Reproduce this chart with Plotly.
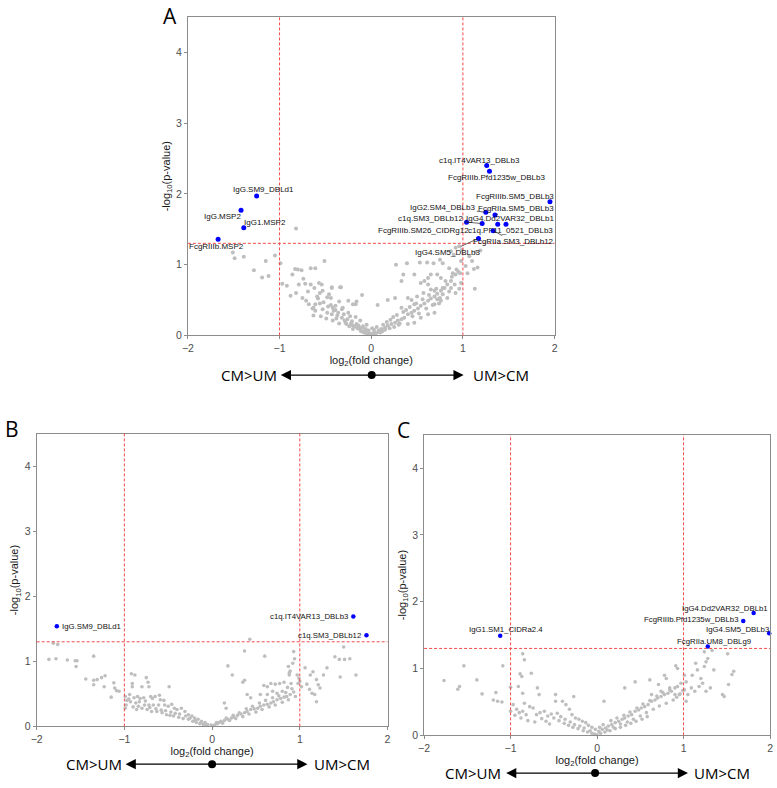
import plotly.graph_objects as go

# ---------------- DATA ----------------
# Panel A (grey, non-significant)
A_GREY = [
    (-1.51,1.17),(-1.49,1.09),(-1.39,1.11),(-1.28,0.92),(-1.19,0.82),(-1.12,0.84),(-1.15,1.05),(-1.05,1.13),
    (-0.99,1.02),(-0.82,1.51),(-0.97,0.73),(-0.92,0.70),(-0.83,0.94),(-0.80,0.93),(-0.76,0.92),(-0.66,0.95),
    (-0.61,0.95),(-0.51,1.05),(-0.88,0.56),(-0.82,0.60),(-0.79,0.72),(-0.72,0.73),(-0.66,0.72),(-0.62,0.67),
    (-0.61,0.44),(-0.56,0.60),(-0.53,0.63),(-0.46,0.58),(-0.33,0.68),(-0.43,0.67),(-0.44,0.53),(-0.75,0.53),
    (-0.71,0.49),(-0.68,0.44),(-0.64,0.38),(-0.61,0.35),(-0.53,0.37),(-0.48,0.32),(-0.43,0.30),(-0.37,0.28),
    (-0.32,0.25),(-0.26,0.23),(-0.21,0.20),(-0.16,0.16),(-0.10,0.11),(-0.07,0.07),(-0.39,0.42),(-0.32,0.37),
    (-0.25,0.32),(-0.17,0.26),(-0.12,0.21),(-0.10,0.57),(-0.17,0.44),(-0.25,0.49),(-0.56,0.45),(-0.63,0.39),
    (-0.44,0.43),(-0.42,0.39),(-0.39,0.36),(-0.36,0.32),(-0.35,0.48),(-0.31,0.39),(-0.20,0.44),(-0.16,0.48),
    (-0.49,0.24),(-0.42,0.21),(-0.35,0.17),(-0.27,0.16),(-0.20,0.14),(-0.13,0.11),(-0.06,0.09),(-0.57,0.74),
    (-0.54,0.72),(-0.43,0.68),(-0.34,0.68),(-0.48,0.54),
    (-0.04,0.05),(-0.02,0.03),(0.00,0.02),(0.02,0.03),(-0.05,0.02),(0.05,0.02),(-0.08,0.04),(0.08,0.05),
    (-0.12,0.08),(0.12,0.06),(-0.15,0.10),(0.15,0.08),(-0.20,0.09),(0.20,0.10),(-0.24,0.13),(0.25,0.12),
    (-0.28,0.18),(0.30,0.15),
    (0.04,0.04),(0.08,0.07),(0.11,0.09),(0.15,0.11),(0.18,0.14),(0.22,0.16),(0.26,0.18),(0.29,0.21),
    (0.33,0.23),(0.36,0.25),(0.40,0.30),(0.44,0.32),(0.47,0.35),(0.51,0.38),(0.54,0.42),(0.58,0.45),
    (0.62,0.49),(0.65,0.52),(0.69,0.55),(0.72,0.59),(0.76,0.63),(0.80,0.67),(0.83,0.72),(0.87,0.77),
    (0.07,0.43),(0.18,0.50),(0.27,1.00),(0.39,1.02),(0.53,1.03),(0.61,1.03),(0.68,1.02),(0.75,1.07),
    (0.78,1.02),(0.33,0.77),(0.26,0.53),(0.33,0.39),(0.40,0.53),(0.47,0.44),(0.62,0.72),(0.65,0.65),
    (0.69,0.63),(0.62,0.81),(0.72,0.86),(0.76,0.81),(0.85,0.95),(0.89,0.88),(0.92,0.86),(0.87,1.19),
    (0.90,1.14),(0.92,1.24),(0.96,1.26),(0.99,1.21),(1.12,0.94),(1.13,0.66),(1.19,1.20),(1.07,1.12),
    (0.98,1.05),(0.69,0.44),(0.76,0.49),(0.83,0.53),(0.54,0.25),(0.62,0.30),(0.69,0.32),(0.40,0.16),
    (0.47,0.18),(1.14,1.18),(1.10,1.05),(1.03,0.98),(0.93,0.93),(0.97,0.88),(0.98,0.74),(0.96,0.66),
    (0.92,0.60),(0.87,0.67),(0.78,0.67),(0.75,0.53),(0.72,0.51),(0.65,0.86),(0.58,0.77),(0.54,0.74),
    (0.47,0.86),(0.35,0.86),
    (-0.58,0.52),(-0.52,0.47),(-0.47,0.41),(-0.41,0.35),(-0.38,0.24),(-0.30,0.30),(-0.29,0.21),(-0.23,0.27),
    (-0.22,0.17),(-0.18,0.13),(-0.14,0.14),(-0.11,0.06),(-0.09,0.13),(-0.03,0.07),(0.03,0.08),(0.06,0.12),
    (0.10,0.04),(0.13,0.15),(0.17,0.19),(0.21,0.22),(0.24,0.26),(0.28,0.29),(0.31,0.17),(0.35,0.33),
    (0.38,0.36),(0.42,0.40),(0.45,0.27),(0.49,0.45),(0.52,0.31),(0.56,0.51),(0.60,0.38),(0.63,0.57),
    (0.67,0.43),(0.71,0.66),(0.74,0.45),(0.78,0.58),(0.81,0.77),(0.85,0.62),(0.88,0.83),(0.91,0.72),
    (0.95,0.90),(0.57,0.60),(0.50,0.55),(0.44,0.50),(-0.86,0.86),(-0.74,0.80),(-0.69,0.62),(-0.59,0.55),
    (-0.63,0.28),(-0.55,0.27),(-0.05,0.15),(0.01,0.10),(1.05,0.88),(1.16,0.96),
]
A_SIG_LABELS = ["c1q.IT4VAR13_DBLb3","FcgRIIIb.Pfd1235w_DBLb3","FcgRIIIb.SM5_DBLb3","IgG2.SM4_DBLb3",
                "FcgRIIa.SM5_DBLb3","FcgRIIIb.SM26_CIDRg12","c1q.SM3_DBLb12","IgG4.Dd2VAR32_DBLb1",
                "c1q.PF11_0521_DBLb3","FcgRIIa.SM3_DBLb12","IgG4.SM5_DBLb3",
                "IgG.SM9_DBLd1","IgG.MSP2","IgG1.MSP2","FcgRIIIb.MSP2"]
A_SIG_X = [1.26, 1.29, 1.95, 1.25, 1.35, 1.04, 1.21, 1.38, 1.47, 1.33, 1.17, -1.25, -1.42, -1.39, -1.67]
A_SIG_Y = [2.40, 2.32, 1.89, 1.74, 1.70, 1.60, 1.58, 1.57, 1.57, 1.48, 1.37, 1.97, 1.77, 1.52, 1.36]

# Panel B
B_GREY = [
    (-1.81,1.28),(-1.76,1.26),(-1.86,1.03),(-1.78,1.04),(-1.65,1.02),(-1.56,1.01),(-1.54,1.01),(-1.55,0.92),
    (-1.35,1.08),(-1.44,0.73),(-1.35,0.71),(-1.31,0.72),(-1.26,0.75),(-1.22,0.78),(-1.35,0.64),(-1.23,0.61),
    (-1.12,0.67),(-1.11,0.59),(-1.09,0.55),(-1.06,0.54),(-1.15,0.45),(-0.92,0.81),(-0.88,0.79),(-0.75,0.75),
    (-0.73,0.68),(-0.91,0.66),(-0.91,0.61),(-0.80,0.61),(-0.72,0.61),(-0.49,0.61),(-0.99,0.46),(-0.97,0.40),
    (-0.98,0.33),(-0.99,0.28),
    (-0.94,0.49),(-0.89,0.44),(-0.85,0.46),(-0.82,0.43),(-0.78,0.44),(-0.76,0.39),(-0.70,0.46),(-0.68,0.43),
    (-0.65,0.46),(-0.60,0.48),(-0.59,0.41),(-0.55,0.40),(-0.72,0.33),(-0.67,0.33),(-0.61,0.33),(-0.54,0.33),
    (-0.50,0.31),(-0.46,0.34),(-0.43,0.28),(-0.40,0.26),(-0.35,0.28),(-0.31,0.23),(-0.27,0.18),(-0.23,0.16),
    (-0.20,0.13),(-0.16,0.11),(-0.12,0.08),(-0.08,0.06),(-0.05,0.03),(-0.01,0.02),(0.03,0.02),(0.06,0.04),
    (0.08,0.06),(0.10,0.08),(0.14,0.09),(0.18,0.11),(0.22,0.13),(0.25,0.14),(0.29,0.17),(0.33,0.19),
    (-0.93,0.38),(-0.87,0.36),(-0.84,0.31),(-0.80,0.28),(-0.74,0.26),(-0.69,0.23),(-0.63,0.23),(-0.57,0.21),
    (-0.52,0.18),(-0.48,0.17),(-0.44,0.16),(-0.38,0.14),(-0.33,0.12),(-0.27,0.11),(-0.22,0.08),(-0.18,0.06),
    (-0.14,0.04),(-0.10,0.03),(-0.07,0.02),
    (0.37,0.21),(0.40,0.23),(0.44,0.26),(0.48,0.27),(0.52,0.28),(0.55,0.31),(0.59,0.33),(0.63,0.34),
    (0.67,0.36),(0.70,0.38),(0.74,0.41),(0.78,0.43),(0.82,0.45),(0.85,0.46),(0.89,0.49),(0.93,0.53),
    (0.18,0.93),(0.23,0.79),(0.37,1.16),(0.43,1.34),(0.60,1.08),(0.35,0.68),(0.37,0.71),(0.14,0.36),
    (0.16,0.28),(0.40,0.49),(0.44,0.44),(0.59,0.63),(0.63,0.61),(0.67,0.66),(0.72,0.65),(0.77,0.66),
    (0.82,0.68),(0.55,0.49),(0.63,0.49),(0.69,0.54),(0.74,0.51),(0.80,0.54),(0.87,0.92),(0.89,0.85),
    (0.88,0.79),(0.93,1.15),(0.94,1.04),(0.92,0.97),(0.97,0.79),(0.99,0.74),(1.00,0.69),(1.02,0.61),
    (1.06,0.90),(1.12,0.79),(1.15,0.84),(1.19,0.72),(1.21,0.64),(1.27,0.79),(1.08,0.65),(1.11,0.57),
    (1.14,0.51),(1.19,0.38),(1.17,0.49),(1.23,0.59),(1.31,0.90),(1.40,1.07),(1.45,1.03),(1.50,1.22),
    (1.51,1.03),(1.57,1.04),(1.46,0.76),(1.64,0.79),(0.88,0.82),
    (-0.95,0.42),(-0.90,0.30),(-0.86,0.26),(-0.83,0.38),(-0.77,0.33),(-0.71,0.29),(-0.64,0.27),(-0.58,0.25),
    (-0.53,0.24),(-0.47,0.22),(-0.42,0.20),(-0.37,0.19),(-0.30,0.16),(-0.25,0.13),(-0.19,0.09),(-0.13,0.06),
    (0.01,0.01),(0.05,0.06),(0.12,0.05),(0.16,0.13),(0.20,0.09),(0.24,0.17),(0.27,0.12),(0.31,0.21),
    (0.35,0.15),(0.39,0.27),(0.42,0.19),(0.46,0.31),(0.50,0.22),(0.54,0.36),(0.57,0.26),(0.61,0.40),
    (0.65,0.30),(0.69,0.44),(0.72,0.33),(0.76,0.47),(0.80,0.37),(0.84,0.52),(0.87,0.41),(0.91,0.58),
    (0.95,0.46),(0.98,0.66),(0.90,0.66),(0.86,0.60),
]
B_SIG_LABELS = ["IgG.SM9_DBLd1", "c1q.IT4VAR13_DBLb3", "c1q.SM3_DBLb12"]
B_SIG_X = [-1.77, 1.61, 1.76]
B_SIG_Y = [1.54, 1.69, 1.40]

# Panel C
C_GREY = [
    (-1.77,0.82),(-1.61,0.69),(-1.59,0.73),(-1.54,1.04),(-1.39,0.83),(-1.33,0.62),(-1.20,0.53),(-1.15,0.51),
    (-1.10,0.50),(-1.09,1.04),(-1.17,0.64),(-1.00,0.72),(-1.00,0.36),(-0.86,1.22),(-0.84,1.13),(-0.89,0.92),
    (-0.87,0.88),(-0.76,0.93),(-0.86,0.63),(-0.91,0.73),(-0.69,0.71),(-0.67,0.61),(-0.84,0.48),(-0.97,0.46),
    (-0.93,0.39),(-0.90,0.34),(-0.86,0.36),(-0.82,0.31),(-0.78,0.43),(-0.74,0.41),(-0.70,0.31),(-0.66,0.34),
    (-0.61,0.36),(-0.57,0.29),(-0.53,0.32),(-0.50,0.26),(-0.48,0.61),(-0.48,0.51),(-0.40,0.51),(-0.36,0.46),
    (-0.32,0.39),(-0.27,0.58),(-0.29,0.31),(-0.25,0.26),(-0.21,0.24),(-0.17,0.21),(-0.13,0.19),(-0.10,0.15),
    (-0.06,0.12),(-0.02,0.09),(0.08,0.51),(-0.44,0.22),(-0.38,0.18),(-0.33,0.15),(-0.28,0.12),(-0.22,0.10),
    (-0.16,0.07),(-0.11,0.05),(-0.06,0.03),(-0.03,0.02),(0.00,0.01),
    (0.02,0.06),(0.06,0.09),(0.10,0.11),(0.13,0.14),(0.17,0.16),(0.21,0.19),(0.25,0.21),(0.29,0.24),
    (0.32,0.26),(0.36,0.29),(0.40,0.31),(0.44,0.36),(0.48,0.38),(0.51,0.41),(0.55,0.43),(0.59,0.46),
    (0.63,0.51),(0.67,0.53),(0.70,0.56),(0.74,0.58),(0.78,0.61),(0.82,0.63),(0.86,0.66),(0.90,0.71),
    (0.93,0.73),(0.97,0.78),(0.04,0.03),(0.09,0.05),(0.15,0.07),(0.21,0.10),(0.27,0.12),(0.33,0.15),
    (0.39,0.18),(0.45,0.21),(0.52,0.24),(0.58,0.28),
    (0.32,0.71),(0.44,0.80),(0.61,0.83),(0.71,0.76),(0.78,0.90),(0.80,0.85),(0.91,1.04),(0.93,1.00),
    (0.63,0.61),(0.74,0.66),(0.84,0.71),(0.90,0.61),(0.95,0.61),(1.01,0.90),(1.03,0.80),(1.01,0.68),
    (1.05,0.61),(1.03,0.51),(1.10,0.90),(1.14,1.08),(1.16,0.98),(1.20,0.85),(1.22,0.78),(1.24,1.03),
    (1.26,1.10),(1.28,1.15),(1.24,1.25),(1.09,0.71),(1.13,0.66),(1.18,0.73),(1.26,0.66),(1.31,0.71),
    (1.35,0.98),(1.45,0.61),(1.47,0.58),(1.52,0.76),(1.56,0.91),(1.58,0.96),(1.51,1.22),(1.33,1.27),
    (-0.95,0.30),(-0.88,0.26),(-0.80,0.22),(-0.72,0.20),(-0.64,0.25),(-0.59,0.21),(-0.55,0.17),(-0.46,0.33),
    (-0.42,0.28),(-0.37,0.24),(-0.31,0.20),(-0.26,0.16),(-0.20,0.14),(-0.15,0.11),(-0.08,0.07),(0.03,0.12),
    (0.07,0.16),(0.12,0.08),(0.16,0.22),(0.19,0.12),(0.23,0.26),(0.27,0.17),(0.31,0.30),(0.35,0.20),
    (0.38,0.35),(0.42,0.24),(0.46,0.41),(0.50,0.29),(0.53,0.47),(0.57,0.34),(0.61,0.52),(0.65,0.39),
    (0.69,0.59),(0.72,0.44),(0.76,0.64),(0.80,0.48),(0.84,0.68),(0.88,0.53),(0.92,0.57),(0.96,0.62),
    (0.99,0.67),
]
C_SIG_LABELS = ["IgG1.SM1_CIDRa2.4", "IgG4.Dd2VAR32_DBLb1", "FcgRIIIb.Pfd1235w_DBLb3",
                "IgG4.SM5_DBLb3", "FcgRIIa.UM8_DBLg9"]
C_SIG_X = [-1.12, 1.81, 1.69, 1.99, 1.28]
C_SIG_Y = [1.49, 1.83, 1.71, 1.53, 1.33]

X_TICKS = [-2, -1, 0, 1, 2]
Y_TICKS = [0, 1, 2, 3, 4]
FC_CUT = [-1, 1]
P_CUT = 1.30103  # -log10(0.05)

# ---------------- STYLE / LAYOUT ----------------
# label placement: (dx px, dy px downward, draw connector)
A_LAB_POS = [(-7,-5,False),(7,6,False),(-35,-5,False),(-43,-5,True),(21,-7,True),(-43,8,False),
             (-52,-5,True),(12,-6,True),(5,6,False),(20,11,True),(-31,14,True),
             (7,-6,False),(-19,6,False),(21,-5,False),(-2,7,False)]
B_LAB_POS = [("left",3,0),("right",-3,0),("right",-3,0)]
C_LAB_POS = [("center",6,6),("center",-29,5),("right",-3,2),("center",-32,4),("center",6,5)]

W, H = 777, 788
FONT = "Liberation Sans, Arial, sans-serif"
BIGFONT = "Open Sans, Noto Sans, sans-serif"
GREY = "#bebebe"
RED = "#f24a4a"
AXC = "#8c8c8c"

panels = [
    dict(grey=A_GREY, sx=A_SIG_X, sy=A_SIG_Y, xd=[184/W, 555/W], yd=[1-338/H, 1-17/H], gs=4, bs=5),
    dict(grey=B_GREY, sx=B_SIG_X, sy=B_SIG_Y, xd=[31/W, 386/W], yd=[1-732/H, 1-437/H], gs=3.6, bs=4.5),
    dict(grey=C_GREY, sx=C_SIG_X, sy=C_SIG_Y, xd=[423/W, 773/W], yd=[1-741/H, 1-438/H], gs=3.6, bs=4.5),
]

fig = go.Figure()
layout = dict(width=W, height=H, margin=dict(l=0, r=0, t=0, b=0), paper_bgcolor="white",
              plot_bgcolor="white", showlegend=False, hovermode=False)
shapes = []
annotations = []

for i, p in enumerate(panels):
    sfx = "" if i == 0 else str(i + 1)
    xa, ya = "x" + sfx, "y" + sfx
    fig.add_trace(go.Scatter(x=[g[0] for g in p["grey"]], y=[g[1] for g in p["grey"]], mode="markers",
                             marker=dict(color=GREY, size=p["gs"], line=dict(width=0)),
                             xaxis=xa, yaxis=ya, cliponaxis=False))
    fig.add_trace(go.Scatter(x=p["sx"], y=p["sy"], mode="markers",
                             marker=dict(color="#0000ff", size=p["bs"], line=dict(width=0)),
                             xaxis=xa, yaxis=ya, cliponaxis=False))
    axis_common = dict(showline=True, mirror=True, linecolor=AXC, linewidth=1, ticks="outside",
                       ticklen=3, tickcolor=AXC, showgrid=False, zeroline=False,
                       tickfont=dict(family=FONT, size=10.5, color="#4d4d4d"))
    layout["xaxis" + sfx] = dict(domain=p["xd"], anchor=ya, range=[-2, 2], tickvals=X_TICKS,
                                 title=dict(text="log<sub>2</sub>(fold change)",
                                            font=dict(family=FONT, size=11, color="#1a1a1a"), standoff=2),
                                 **axis_common)
    layout["yaxis" + sfx] = dict(domain=p["yd"], anchor=xa, range=[0, 4.5], tickvals=Y_TICKS,
                                 title=dict(text="-log<sub>10</sub>(p-value)",
                                            font=dict(family=FONT, size=11, color="#1a1a1a"), standoff=3),
                                 **axis_common)
    for c in FC_CUT:
        shapes.append(dict(type="line", xref=xa, yref=ya + " domain", x0=c, x1=c, y0=0, y1=1,
                           line=dict(color=RED, width=1, dash="3px,2px"), layer="above"))
    shapes.append(dict(type="line", xref=xa + " domain", yref=ya, x0=0, x1=1, y0=P_CUT, y1=P_CUT,
                       line=dict(color=RED, width=1, dash="3px,2px"), layer="above"))

# Panel A labels (repelled style)
for lab, x, y, (dx, dy, ln) in zip(A_SIG_LABELS, A_SIG_X, A_SIG_Y, A_LAB_POS):
    if ln:
        annotations.append(dict(x=x, y=y, xref="x", yref="y", text=lab, showarrow=True, arrowhead=0,
                                arrowwidth=0.7, arrowcolor="#222", ax=dx, ay=dy, standoff=1,
                                font=dict(family=FONT, size=8, color="#111")))
    else:
        annotations.append(dict(x=x, y=y, xref="x", yref="y", text=lab, showarrow=False,
                                xshift=dx, yshift=-dy, font=dict(family=FONT, size=8, color="#111")))
for lab, x, y, (anc, dx, dy) in zip(B_SIG_LABELS, B_SIG_X, B_SIG_Y, B_LAB_POS):
    annotations.append(dict(x=x, y=y, xref="x2", yref="y2", text=lab, showarrow=False, xanchor=anc,
                            xshift=dx, yshift=dy, font=dict(family=FONT, size=7.8, color="#111")))
for lab, x, y, (anc, dx, dy) in zip(C_SIG_LABELS, C_SIG_X, C_SIG_Y, C_LAB_POS):
    annotations.append(dict(x=x, y=y, xref="x3", yref="y3", text=lab, showarrow=False, xanchor=anc,
                            xshift=dx, yshift=dy, font=dict(family=FONT, size=7.8, color="#111")))

# Panel letters (top-anchored)
for txt, px, py in [("A", 166, -3), ("B", 6, 416), ("C", 402, 417)]:
    annotations.append(dict(x=px/W, y=min(1.0, 1-py/H), xref="paper", yref="paper", text=txt,
                            showarrow=False, xanchor="center", yanchor="top",
                            font=dict(family=BIGFONT, size=21, color="black")))

# Direction arrows under each panel
for left_end, center, right_end, row_y, ltxt, rtxt in [
        (278, 370, 463, 378, 276, 470),
        (121, 208.5, 305, 770, 119, 310),
        (506, 596, 690, 779, 503, 694)]:
    yy = 1 - row_y/H
    for end in (left_end, right_end):
        annotations.append(dict(x=end/W, y=yy, xref="paper", yref="paper", ax=center - end, ay=0,
                                text="", showarrow=True, arrowhead=2,
                                arrowsize=1.7, arrowwidth=1.2, arrowcolor="black"))
    annotations.append(dict(x=ltxt/W, y=yy, xref="paper", yref="paper", text="CM&gt;UM", showarrow=False,
                            xanchor="right", yanchor="middle", font=dict(family=BIGFONT, size=15, color="black")))
    annotations.append(dict(x=rtxt/W, y=yy, xref="paper", yref="paper", text="UM&gt;CM", showarrow=False,
                            xanchor="left", yanchor="middle", font=dict(family=BIGFONT, size=15, color="black")))
    shapes.append(dict(type="circle", xref="paper", yref="paper", xsizemode="pixel", ysizemode="pixel",
                       xanchor=center/W, yanchor=yy, x0=-4, x1=4, y0=-4, y1=4,
                       fillcolor="black", line=dict(color="black", width=0)))

layout["shapes"] = shapes
layout["annotations"] = annotations
fig.update_layout(**layout)
fig.write_html("out.html", config={"displayModeBar": False, "staticPlot": True},
               post_script="document.body.style.margin='0px';document.body.style.padding='0px';"
                           "document.body.style.overflow='hidden';")
